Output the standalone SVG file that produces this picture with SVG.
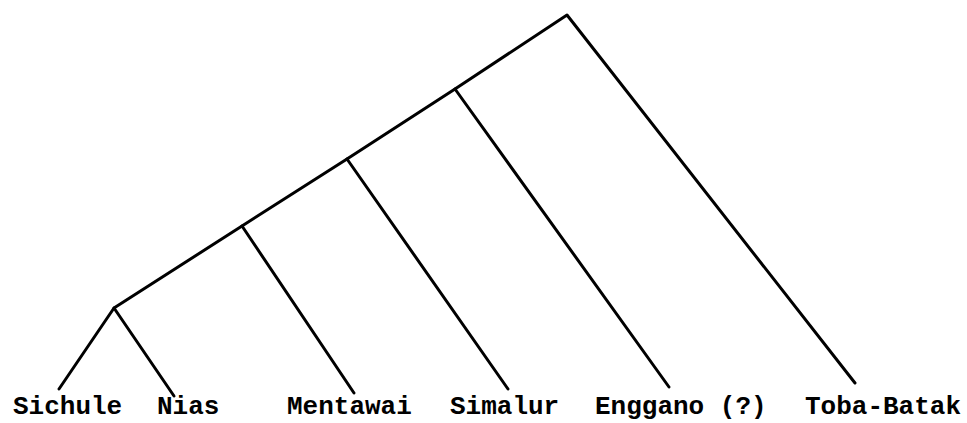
<svg xmlns="http://www.w3.org/2000/svg" width="967" height="423" viewBox="0 0 967 423">
<style>
.e{stroke:#000;stroke-width:3;fill:none;stroke-linecap:round;stroke-linejoin:round}
text{font-family:"Liberation Mono","DejaVu Sans Mono",monospace;font-weight:bold;font-size:26px;fill:#000}
</style>
<rect width="967" height="423" fill="#fff"/>
<g id="connectors">
<polyline class="e" points="855,383 567,15 455,89 347,159 242,226 114,308 59,389"/>
<line class="e" x1="455" y1="89" x2="669" y2="387"/>
<line class="e" x1="347" y1="159" x2="508" y2="389"/>
<line class="e" x1="242" y1="226" x2="354" y2="393"/>
<line class="e" x1="114" y1="308" x2="174" y2="396"/>
</g>
<g id="sichule"><text x="13" y="414">Sichule</text></g>
<g id="nias"><text x="157" y="414">Nias</text></g>
<g id="mentawai"><text x="287" y="414">Mentawai</text></g>
<g id="simalur"><text x="450" y="414">Simalur</text></g>
<g id="enggano"><text x="595" y="414">Enggano (?)</text></g>
<g id="toba-batak"><text x="805" y="414">Toba-Batak</text></g>
</svg>
